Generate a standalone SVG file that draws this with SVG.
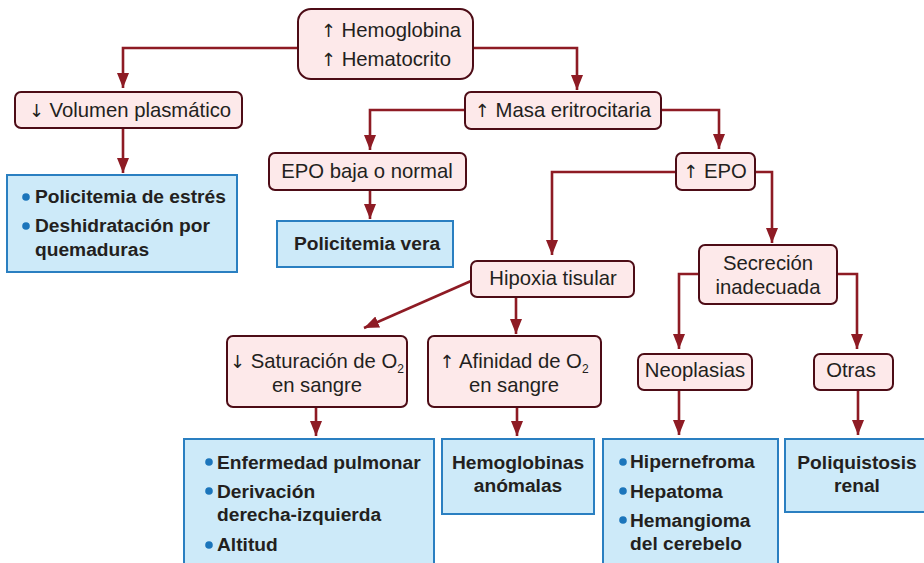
<svg xmlns="http://www.w3.org/2000/svg" width="924" height="563" viewBox="0 0 924 563">
<defs>
<marker id="ah" markerUnits="userSpaceOnUse" markerWidth="16" markerHeight="12" refX="15" refY="6" orient="auto">
<path d="M0,0 L15,6 L0,12 z" fill="#8e1b24"/>
</marker>
<style>
.n{fill:#fde9ea;stroke:#4d0c16;stroke-width:2}
.b{fill:#cdeaf9;stroke:#2a7fc1;stroke-width:2}
.c{fill:none;stroke:#8e1b24;stroke-width:2.6;marker-end:url(#ah)}
.t{font-family:"Liberation Sans",Arial,sans-serif;font-size:20.3px;fill:#231f20;text-anchor:middle}
.tb{font-family:"Liberation Sans",Arial,sans-serif;font-size:19.2px;font-weight:bold;fill:#231f20}
.m{text-anchor:middle}
.ar{font-family:"DejaVu Sans",sans-serif;font-size:18px}
.dot{fill:#1b75bb}
</style>
</defs>
<rect width="924" height="563" fill="#ffffff"/>
<g id="connectors">
<path class="c" d="M298,48 H123 V88"/>
<path class="c" d="M473,48 H577 V90"/>
<path class="c" d="M123,128 V173"/>
<path class="c" d="M465,110 H370 V150"/>
<path class="c" d="M661,110 H719 V149"/>
<path class="c" d="M370,190 V219"/>
<path class="c" d="M676,172 H552 V255"/>
<path class="c" d="M755,172 H772 V243"/>
<path class="c" d="M471,281 L364,328"/>
<path class="c" d="M516,297 V334"/>
<path class="c" d="M699,274 H679 V349"/>
<path class="c" d="M837,274 H857 V349"/>
<path class="c" d="M316,407 V436"/>
<path class="c" d="M517,407 V436"/>
<path class="c" d="M679,390 V435"/>
<path class="c" d="M858,390 V435"/>
</g>
<g id="n_hb">
<rect class="n" x="298" y="9" width="175" height="70" rx="13"/>
<text class="t" x="391" y="37"><tspan class="ar">↑</tspan> Hemoglobina</text>
<text class="t" x="386" y="66"><tspan class="ar">↑</tspan> Hematocrito</text>
</g>
<g id="n_vol">
<rect class="n" x="15" y="92" width="227" height="36" rx="6"/>
<text class="t" x="130" y="117"><tspan class="ar">↓</tspan> Volumen plasmático</text>
</g>
<g id="n_masa">
<rect class="n" x="465" y="92" width="196" height="37" rx="6"/>
<text class="t" x="563" y="117"><tspan class="ar">↑</tspan> Masa eritrocitaria</text>
</g>
<g id="n_epob">
<rect class="n" x="269" y="153" width="197" height="37" rx="6"/>
<text class="t" x="367" y="178">EPO baja o normal</text>
</g>
<g id="n_epo">
<rect class="n" x="676" y="153" width="79" height="37" rx="6"/>
<text class="t" x="715" y="178"><tspan class="ar">↑</tspan> EPO</text>
</g>
<g id="n_hip">
<rect class="n" x="471" y="261" width="163" height="36" rx="6"/>
<text class="t" x="553" y="285">Hipoxia tisular</text>
</g>
<g id="n_sec">
<rect class="n" x="699" y="245" width="138" height="59" rx="6"/>
<text class="t" x="768" y="270">Secreción</text>
<text class="t" x="768" y="294">inadecuada</text>
</g>
<g id="n_sat">
<rect class="n" x="227" y="336" width="180" height="71" rx="6"/>
<text class="t" x="317" y="368"><tspan class="ar">↓</tspan> Saturación de O<tspan font-size="12" dy="5">2</tspan></text>
<text class="t" x="317" y="392">en sangre</text>
</g>
<g id="n_afi">
<rect class="n" x="428" y="336" width="173" height="71" rx="6"/>
<text class="t" x="514" y="368"><tspan class="ar">↑</tspan> Afinidad de O<tspan font-size="12" dy="5">2</tspan></text>
<text class="t" x="514" y="392">en sangre</text>
</g>
<g id="n_neo">
<rect class="n" x="638" y="354" width="114" height="36" rx="6"/>
<text class="t" x="695" y="377">Neoplasias</text>
</g>
<g id="n_otr">
<rect class="n" x="814" y="354" width="79" height="36" rx="6"/>
<text class="t" x="851" y="377">Otras</text>
</g>
<g id="b_estres">
<rect class="b" x="7" y="175" width="230" height="97"/>
<circle class="dot" cx="26" cy="197" r="3.8"/>
<circle class="dot" cx="26" cy="226" r="3.8"/>
<text class="tb" x="35" y="203">Policitemia de estrés</text>
<text class="tb" x="35" y="232">Deshidratación por</text>
<text class="tb" x="35" y="256">quemaduras</text>
</g>
<g id="b_vera">
<rect class="b" x="277" y="221" width="176" height="46"/>
<text class="tb m" x="367" y="250">Policitemia vera</text>
</g>
<g id="b_pulm">
<rect class="b" x="184" y="439" width="250" height="130"/>
<circle class="dot" cx="209" cy="462" r="3.8"/>
<circle class="dot" cx="209" cy="491" r="3.8"/>
<circle class="dot" cx="209" cy="545" r="3.8"/>
<text class="tb" x="217" y="469">Enfermedad pulmonar</text>
<text class="tb" x="217" y="498">Derivación</text>
<text class="tb" x="217" y="521">derecha-izquierda</text>
<text class="tb" x="217" y="551">Altitud</text>
</g>
<g id="b_hemo">
<rect class="b" x="442" y="439" width="152" height="75"/>
<text class="tb m" x="518" y="469">Hemoglobinas</text>
<text class="tb m" x="518" y="492">anómalas</text>
</g>
<g id="b_neo">
<rect class="b" x="603" y="439" width="175" height="130"/>
<circle class="dot" cx="623" cy="462" r="3.8"/>
<circle class="dot" cx="623" cy="491" r="3.8"/>
<circle class="dot" cx="623" cy="520" r="3.8"/>
<text class="tb" x="630" y="468">Hipernefroma</text>
<text class="tb" x="630" y="498">Hepatoma</text>
<text class="tb" x="630" y="527">Hemangioma</text>
<text class="tb" x="630" y="550">del cerebelo</text>
</g>
<g id="b_poli">
<rect class="b" x="785" y="439" width="145" height="73"/>
<text class="tb m" x="857" y="469">Poliquistosis</text>
<text class="tb m" x="857" y="492">renal</text>
</g>
</svg>
